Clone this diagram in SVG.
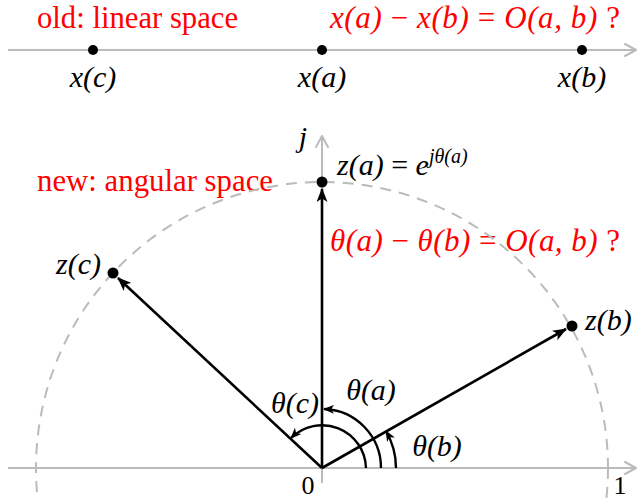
<svg xmlns="http://www.w3.org/2000/svg" width="640" height="500" viewBox="0 0 640 500">
<defs>
<style>
.ax{stroke:#bbb;stroke-width:2;fill:none}
.chev{stroke:#bbb;stroke-width:2;fill:none;stroke-linecap:round;stroke-linejoin:round}
.vec{stroke:#000;stroke-width:2.6;fill:none}
.arc{stroke:#000;stroke-width:2.4;fill:none}
.dot{fill:#000}
.m{font-family:"Liberation Serif",serif;font-style:italic;font-size:30px;fill:#000}
.r{font-family:"Liberation Serif",serif;font-size:31px;fill:#f00}
.ri{font-family:"Liberation Serif",serif;font-style:italic;font-size:31px;fill:#f00}
.n{font-family:"Liberation Serif",serif;font-size:26px;fill:#000}
.up{font-style:normal}
</style>
<marker id="ah" viewBox="0 0 14 11" refX="13" refY="5.5" markerWidth="14" markerHeight="11" markerUnits="userSpaceOnUse" orient="auto">
<path d="M0,0 L14,5.5 L0,11 L3.5,5.5 Z" fill="#000"/>
</marker>
<marker id="sh" viewBox="0 0 11 9" refX="10" refY="4.5" markerWidth="11" markerHeight="9" markerUnits="userSpaceOnUse" orient="auto">
<path d="M0,0 L11,4.5 L0,9 L2.8,4.5 Z" fill="#000"/>
</marker>
</defs>
<g id="linear-axis">
<line class="ax" x1="8" y1="50" x2="635" y2="50"/>
<path class="chev" d="M625,44 L636,50 L625,56"/>
</g>
<g id="xc"><circle class="dot" cx="93" cy="50" r="5"/><text class="m" x="93" y="87" text-anchor="middle">x(c)</text></g>
<g id="xa"><circle class="dot" cx="322" cy="50" r="5"/><text class="m" x="322" y="87" text-anchor="middle">x(a)</text></g>
<g id="xb"><circle class="dot" cx="582" cy="50" r="5"/><text class="m" x="582" y="87" text-anchor="middle">x(b)</text></g>
<text class="r" x="37" y="28" textLength="201" lengthAdjust="spacingAndGlyphs">old: linear space</text>
<text class="ri" x="330" y="28" textLength="290" lengthAdjust="spacing">x(a) <tspan class="up">−</tspan> x(b) <tspan class="up">=</tspan> O(a, b) <tspan class="up">?</tspan></text>
<text class="r" x="37" y="191" textLength="236" lengthAdjust="spacingAndGlyphs">new: angular space</text>
<text class="ri" x="330" y="251" textLength="290" lengthAdjust="spacing">θ(a) <tspan class="up">−</tspan> θ(b) <tspan class="up">=</tspan> O(a, b) <tspan class="up">?</tspan></text>
<g id="axes">
<circle class="ax" cx="322" cy="468" r="286" stroke-dasharray="11,8"/>
<line class="ax" x1="8" y1="468" x2="635" y2="468"/>
<path class="chev" d="M625,462 L636,468 L625,474"/>
<line class="ax" x1="322" y1="483" x2="322" y2="137"/>
<path class="chev" d="M316,147 L322,136 L328,147"/>
<text class="m" x="303" y="147" text-anchor="middle">j</text>
<text class="n" x="308" y="494" text-anchor="middle">0</text>
<text class="n" x="620" y="494" text-anchor="middle">1</text>
</g>
<g id="connectors">
<line class="vec" x1="322" y1="468" x2="322" y2="189" marker-end="url(#ah)"/>
<line class="vec" x1="322" y1="468" x2="118" y2="278" marker-end="url(#ah)"/>
<line class="vec" x1="322" y1="468" x2="566" y2="329" marker-end="url(#ah)"/>
<path class="arc" d="M366,468 A44,44 0 0 0 291,438" marker-end="url(#sh)"/>
<path class="arc" d="M381,468 A59,59 0 0 0 324,409" marker-end="url(#sh)"/>
<path class="arc" d="M396,468 A74,74 0 0 0 386,431" marker-end="url(#sh)"/>
</g>
<g id="za"><circle class="dot" cx="322" cy="182" r="5.5"/><text class="m" x="337" y="175">z(a) <tspan class="up">=</tspan> e<tspan dy="-12" font-size="20">jθ(a)</tspan></text></g>
<g id="zc"><circle class="dot" cx="113" cy="273" r="5.5"/><text class="m" x="56" y="274">z(c)</text></g>
<g id="zb"><circle class="dot" cx="572" cy="326" r="5.5"/><text class="m" x="585" y="330">z(b)</text></g>
<text class="m" x="295" y="413" text-anchor="middle">θ(c)</text>
<text class="m" x="371" y="400" text-anchor="middle">θ(a)</text>
<text class="m" x="437" y="456" text-anchor="middle">θ(b)</text>
</svg>
